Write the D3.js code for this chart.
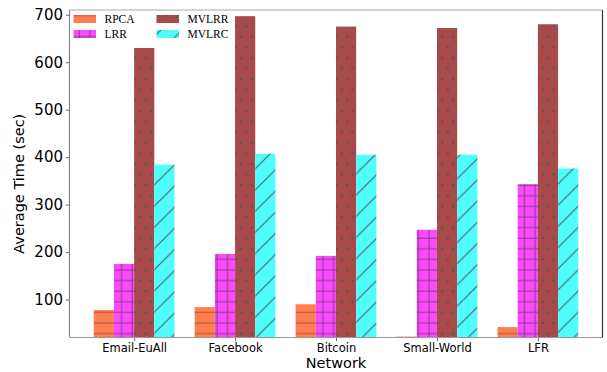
<!DOCTYPE html>
<html>
<head>
<meta charset="utf-8">
<script src="https://cdn.jsdelivr.net/npm/d3@7"></script>
<style>
  body { margin: 0; background: #fff; }
  svg { display: block; }
</style>
</head>
<body>
<div id="container"></div>
<script>
var networks = ["Email-EuAll", "Facebook", "Bitcoin", "Small-World", "LFR"];
var methods = ["RPCA", "LRR", "MVLRR", "MVLRC"];
var rpca  = [78, 84, 90, 22, 42];
var lrr   = [175, 196, 192, 247, 343];
var mvlrr = [630, 697, 675, 672, 680];
var mvlrc = [384, 407, 405, 405, 376];
var yTicks = [100, 200, 300, 400, 500, 600, 700];

var series = [rpca, lrr, mvlrr, mvlrc];
var fills = ["#ff7f50", "#fb4afb", "#a94a4a", "#50fdfd"];
var patterns = ["hRPCA", "hLRR", "hMVLRR", "hMVLRC"];

var width = 607, height = 372;
var plotL = 69.5, plotR = 602.5, plotT = 10, plotB = 337.5;

var svg = d3.select("#container").append("svg")
  .attr("width", width)
  .attr("height", height);

var defs = svg.append("defs");

// hatch patterns
var p = defs.append("pattern").attr("id", "hRPCA")
  .attr("patternUnits", "userSpaceOnUse").attr("width", 10.6).attr("height", 10.6);
p.append("rect").attr("width", 10.6).attr("height", 10.6).attr("fill", fills[0]);
p.append("line").attr("x1", 0).attr("x2", 10.6).attr("y1", 5).attr("y2", 5)
  .attr("stroke", "#a8543a").attr("stroke-width", 1);

p = defs.append("pattern").attr("id", "hLRR")
  .attr("patternUnits", "userSpaceOnUse").attr("width", 10.6).attr("height", 10.6);
p.append("rect").attr("width", 10.6).attr("height", 10.6).attr("fill", fills[1]);
p.append("line").attr("x1", 0).attr("x2", 10.6).attr("y1", 5).attr("y2", 5)
  .attr("stroke", "#8a3a8a").attr("stroke-width", 1);
p.append("line").attr("x1", 5).attr("x2", 5).attr("y1", 0).attr("y2", 10.6)
  .attr("stroke", "#8a3a8a").attr("stroke-width", 1);

p = defs.append("pattern").attr("id", "hMVLRR")
  .attr("patternUnits", "userSpaceOnUse").attr("width", 10.6).attr("height", 21.2);
p.append("rect").attr("width", 10.6).attr("height", 21.2).attr("fill", fills[2]);
p.append("circle").attr("cx", 2.6).attr("cy", 5).attr("r", 1.4).attr("fill", "#6a5050");
p.append("circle").attr("cx", 7.9).attr("cy", 15.6).attr("r", 1.4).attr("fill", "#6a5050");

p = defs.append("pattern").attr("id", "hMVLRC")
  .attr("patternUnits", "userSpaceOnUse").attr("width", 21.2).attr("height", 21.2);
p.append("rect").attr("width", 21.2).attr("height", 21.2).attr("fill", fills[3]);
p.append("line").attr("x1", 0).attr("y1", 21.2).attr("x2", 21.2).attr("y2", 0)
  .attr("stroke", "#4a5a5a").attr("stroke-width", 1);
p.append("line").attr("x1", -2).attr("y1", 2).attr("x2", 2).attr("y2", -2)
  .attr("stroke", "#4a5a5a").attr("stroke-width", 1);
p.append("line").attr("x1", 19.2).attr("y1", 23.2).attr("x2", 23.2).attr("y2", 19.2)
  .attr("stroke", "#4a5a5a").attr("stroke-width", 1);

var x = d3.scaleLinear().domain([-0.64, networks.length - 1 + 0.64]).range([plotL, plotR]);
var y = d3.scaleLinear().domain([20, 710]).range([plotB, plotT]);
var barW = 0.2;
var unit = x(1) - x(0);

// bars
series.forEach(function (vals, s) {
  svg.append("g").selectAll("rect")
    .data(vals)
    .enter()
    .append("rect")
    .attr("x", function (d, i) { return x(i - 0.4 + s * barW); })
    .attr("width", barW * unit)
    .attr("y", function (d) { return y(d); })
    .attr("height", function (d) { return y(y.domain()[0]) - y(d); })
    .attr("fill", "url(#" + patterns[s] + ")");
});

// axes
var yAxis = svg.append("g")
  .attr("transform", "translate(" + plotL + ",0)")
  .call(d3.axisLeft(y).tickValues(yTicks).tickSize(3.5).tickPadding(3));
yAxis.select(".domain").remove();
yAxis.selectAll("line").attr("stroke", "#666");
yAxis.selectAll("text")
  .style("font-family", "DejaVu Sans")
  .style("font-size", "15px")
  .attr("fill", "#000");

var xAxis = svg.append("g")
  .attr("transform", "translate(0," + plotB + ")")
  .call(d3.axisBottom(x).tickValues(d3.range(networks.length))
    .tickFormat(function (d) { return networks[d]; })
    .tickSize(3.5).tickPadding(3));
xAxis.select(".domain").remove();
xAxis.selectAll("line").attr("stroke", "#666");
xAxis.selectAll("text")
  .style("font-family", "DejaVu Sans")
  .style("font-size", "11.5px")
  .attr("fill", "#000");

// frame
svg.append("line").attr("x1", plotL).attr("x2", plotL).attr("y1", plotT).attr("y2", plotB)
  .attr("stroke", "#888").attr("stroke-width", 1.2);
svg.append("line").attr("x1", plotL).attr("x2", plotR).attr("y1", plotB).attr("y2", plotB)
  .attr("stroke", "#999").attr("stroke-width", 1.2);
svg.append("line").attr("x1", plotL).attr("x2", plotR).attr("y1", plotT).attr("y2", plotT)
  .attr("stroke", "#aaa").attr("stroke-width", 1.2);
svg.append("line").attr("x1", plotR).attr("x2", plotR).attr("y1", plotT).attr("y2", plotB)
  .attr("stroke", "#333").attr("stroke-width", 1.2);

// axis titles
svg.append("text")
  .attr("x", (plotL + plotR) / 2)
  .attr("y", 368)
  .attr("text-anchor", "middle")
  .style("font-family", "DejaVu Sans")
  .style("font-size", "14.5px")
  .text("Network");

svg.append("text")
  .attr("transform", "translate(24," + ((plotT + plotB) / 2 + 10) + ") rotate(-90)")
  .attr("text-anchor", "middle")
  .style("font-family", "DejaVu Sans")
  .style("font-size", "14.5px")
  .text("Average Time (sec)");

// legend, two columns
var legend = svg.append("g");
methods.forEach(function (m, i) {
  var col = Math.floor(i / 2), row = i % 2;
  var lx = 73.5 + col * 83, ly = 15 + row * 15;
  legend.append("rect")
    .attr("x", lx).attr("y", ly)
    .attr("width", 22.5).attr("height", 8)
    .attr("fill", "url(#" + patterns[i] + ")");
  legend.append("text")
    .attr("x", lx + 31).attr("y", ly + 8)
    .style("font-family", "Liberation Serif")
    .style("font-size", "11.5px")
    .text(m);
});
</script>
</body>
</html>
